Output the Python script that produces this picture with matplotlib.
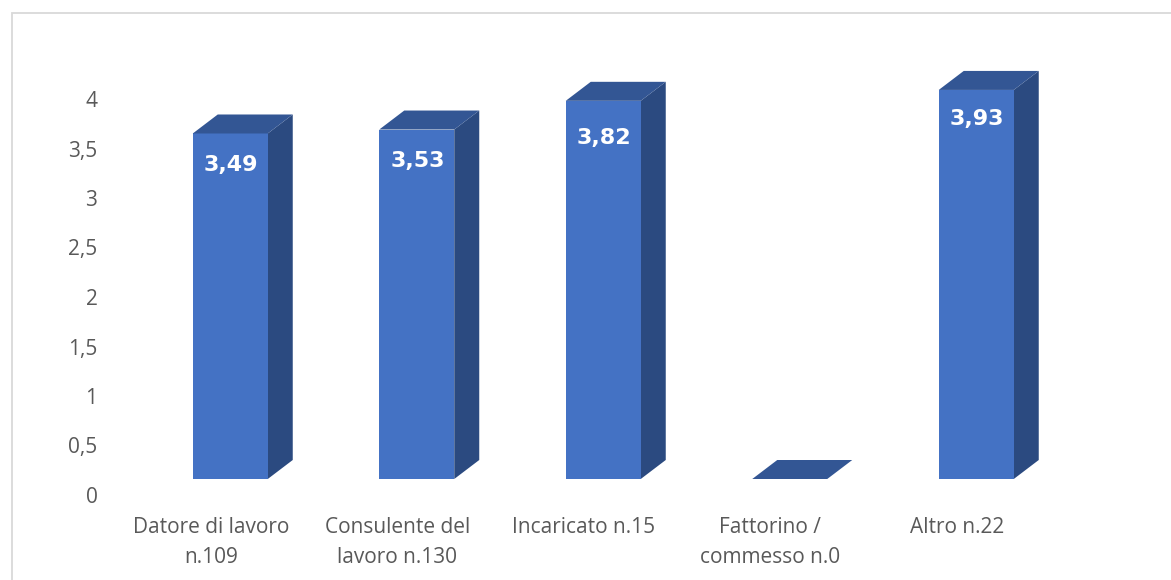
import numpy as np
import matplotlib
matplotlib.use("Agg")
import matplotlib.pyplot as plt
from matplotlib.patches import Rectangle
from matplotlib.transforms import ScaledTranslation

categories = ["Datore di lavoro\nn.109", "Consulente del\nlavoro n.130", "Incaricato n.15",
              "Fattorino /\ncommesso n.0", "Altro n.22"]
values = [3.49, 3.53, 3.82, 0, 3.93]
value_labels = ["3,49", "3,53", "3,82", "", "3,93"]
y_ticks = [0, 0.5, 1, 1.5, 2, 2.5, 3, 3.5, 4]
y_labels = ["0", "0,5", "1", "1,5", "2", "2,5", "3", "3,5", "4"]

W, H = 1171, 580
plt.rcParams["font.family"] = ["Open Sans", "DejaVu Sans"]

fig = plt.figure(figsize=(W / 100, H / 100), dpi=100)

# chart frame, runs off the right and bottom of the picture
fig.add_artist(Rectangle((11.5 / W, -0.1), 1.2, 1.1 - 13.5 / H, transform=fig.transFigure,
                         fill=False, ec="#D9D9D9", lw=1.3))

# axes placed so the front face of the bars sits on the plot scale
step = 186.5
ax = fig.add_axes([137 / W, 1 - 479 / H, 5 * step / W, 396 / H])
ax.set_xlim(-0.5, 4.5)
ax.set_ylim(0, 4)
ax.patch.set_visible(False)
for s in ax.spines.values():
    s.set_visible(False)

bar_w = 75 / step
dx = 25 / step      # depth of the fake 3d
dy = 19 / 99.0

x = np.arange(len(values))
ax.bar(x, values, width=bar_w, color="#4472C4", linewidth=0, zorder=3)

# how far below the bar top each label sits, in pixels (not regular in the original)
label_drop = [32, 31, 37, 0, 29]

for xi, v, lab, drop in zip(x, values, value_labels, label_drop):
    l, r = xi - bar_w / 2, xi + bar_w / 2
    if v > 0:
        ax.fill([r, r + dx, r + dx, r], [0, dy, v + dy, v], color="#2B4A80", lw=0, zorder=2, clip_on=False)
    ax.fill([l, r, r + dx, l + dx], [v, v, v + dy, v + dy], color="#335694", lw=0, zorder=4, clip_on=False)
    if lab:
        ax.text(xi + 1 / step, v - drop / 99.0, lab, ha="center", va="center", color="white", fontsize=16,
                fontweight="bold", family="DejaVu Sans", zorder=5)

ax.set_yticks(y_ticks)
ax.set_yticklabels(y_labels)
ax.set_xticks(x)
ax.set_xticklabels(categories, linespacing=1.55)
ax.tick_params(axis="both", length=0, labelcolor="#595959", labelsize=15)
ax.tick_params(axis="y", pad=28.5)
ax.tick_params(axis="x", pad=27.2)

# labels are shifted from the bars like in the 3d original
for t in ax.get_yticklabels():
    t.set_transform(t.get_transform() + ScaledTranslation(0, -16 / 100, fig.dpi_scale_trans))
for t in ax.get_xticklabels():
    t.set_transform(t.get_transform() + ScaledTranslation(-19.5 / 100, 0, fig.dpi_scale_trans))

fig.savefig("out.png", dpi=100)
plt.close()
